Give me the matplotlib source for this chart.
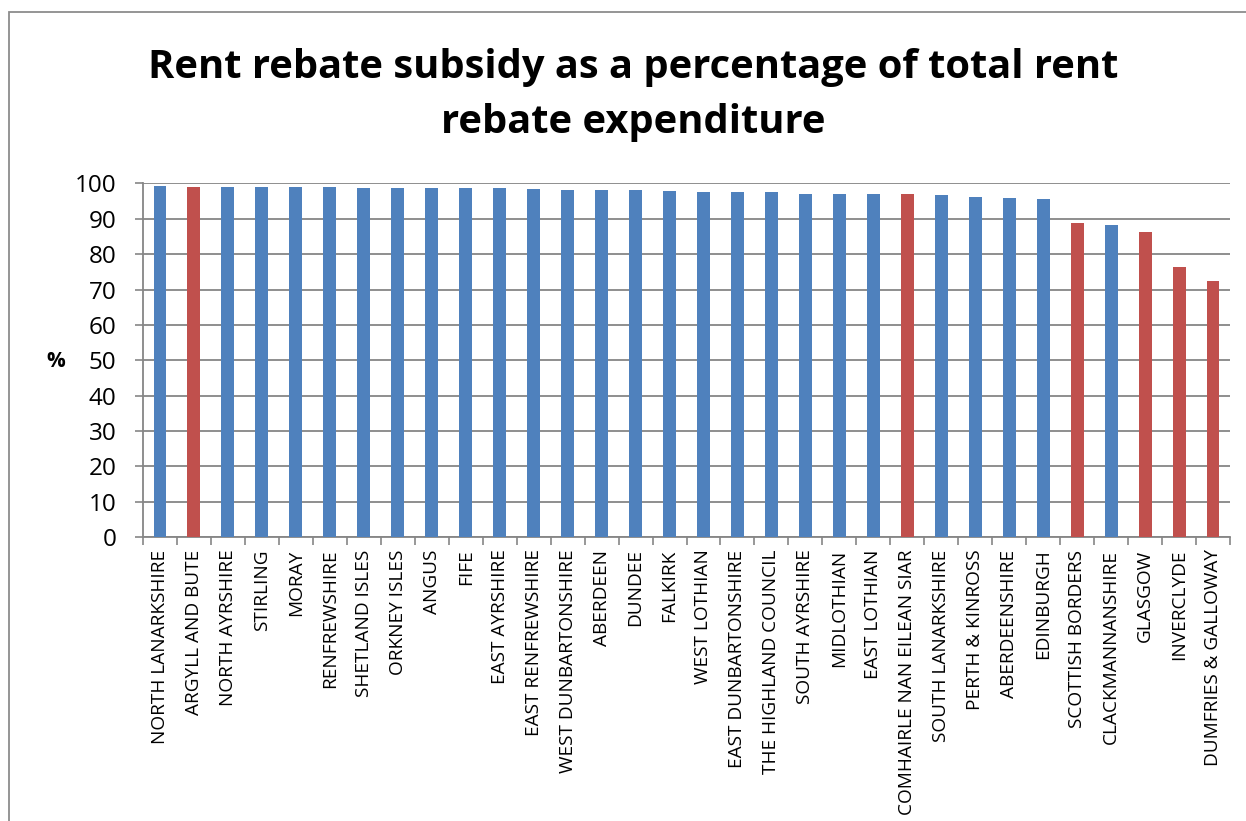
import matplotlib
matplotlib.use("Agg")
import matplotlib.pyplot as plt
from matplotlib.patches import Rectangle
from matplotlib.ticker import FixedLocator, NullFormatter

councils = [
    "NORTH LANARKSHIRE", "ARGYLL AND BUTE", "NORTH AYRSHIRE", "STIRLING",
    "MORAY", "RENFREWSHIRE", "SHETLAND ISLES", "ORKNEY ISLES", "ANGUS",
    "FIFE", "EAST AYRSHIRE", "EAST RENFREWSHIRE", "WEST DUNBARTONSHIRE",
    "ABERDEEN", "DUNDEE", "FALKIRK", "WEST LOTHIAN", "EAST DUNBARTONSHIRE",
    "THE HIGHLAND COUNCIL", "SOUTH AYRSHIRE", "MIDLOTHIAN", "EAST LOTHIAN",
    "COMHAIRLE NAN EILEAN SIAR", "SOUTH LANARKSHIRE", "PERTH & KINROSS",
    "ABERDEENSHIRE", "EDINBURGH", "SCOTTISH BORDERS", "CLACKMANNANSHIRE",
    "GLASGOW", "INVERCLYDE", "DUMFRIES & GALLOWAY",
]
subsidy_pct = [
    99.4, 99.1, 99.1, 99.1, 99.0, 99.0, 98.8, 98.8, 98.7, 98.7, 98.6, 98.5,
    98.3, 98.2, 98.2, 98.0, 97.7, 97.5, 97.5, 97.1, 96.9, 96.9, 96.9, 96.8,
    96.3, 96.0, 95.7, 88.7, 88.4, 86.4, 76.4, 72.5,
]
highlighted = {
    "ARGYLL AND BUTE", "COMHAIRLE NAN EILEAN SIAR", "SCOTTISH BORDERS",
    "GLASGOW", "INVERCLYDE", "DUMFRIES & GALLOWAY",
}
y_ticks = [0, 10, 20, 30, 40, 50, 60, 70, 80, 90, 100]

BLUE = "#4F81BD"
RED = "#C0504D"
GRID = "#868686"
FONT = ["Open Sans", "DejaVu Sans"]

plt.rcParams["font.family"] = FONT

W, H, DPI = 1246, 821, 100
fig = plt.figure(figsize=(W / DPI, H / DPI), dpi=DPI)
fig.patch.set_facecolor("white")

# chart-area frame (only left and top edges fall inside the canvas)
fig.add_artist(Rectangle((9 / W, -0.05), 1.1, 1 - 12 / H + 0.05,
                         transform=fig.transFigure, fill=False,
                         edgecolor="#8C8C8C", linewidth=1.3))

left, right, top, bottom = 143, 1230, 183.5, 537
ax = fig.add_axes([left / W, 1 - bottom / H, (right - left) / W, (bottom - top) / H])

x = list(range(len(councils)))
colors = [RED if c in highlighted else BLUE for c in councils]
ax.bar(x, subsidy_pct, width=0.38, color=colors, zorder=3)

ax.set_xlim(-0.5, len(councils) - 0.5)
ax.set_ylim(0, 100)
ax.set_yticks(y_ticks)
ax.tick_params(axis="y", labelsize=17.5, length=6, width=1.2, color=GRID, pad=13)
ax.yaxis.grid(True, color=GRID, linewidth=1.3, zorder=0)

ax.set_xticks(x)
ax.set_xticklabels(councils, rotation=90, fontsize=13.7)
ax.tick_params(axis="x", which="major", length=0, pad=9)
ax.xaxis.set_minor_locator(FixedLocator([i - 0.5 for i in range(len(councils) + 1)]))
ax.xaxis.set_minor_formatter(NullFormatter())
ax.tick_params(axis="x", which="minor", length=6, width=1.2, color=GRID)

for side in ("top", "right"):
    ax.spines[side].set_visible(False)
for side in ("left", "bottom"):
    ax.spines[side].set_color(GRID)
    ax.spines[side].set_linewidth(1.3)

fig.text(56 / W, 1 - 361 / H, "%", fontsize=15, fontweight="bold",
         ha="center", va="center")

fig.text(633 / W, 1 - 95 / H,
         "Rent rebate subsidy as a percentage of total rent\nrebate expenditure",
         fontsize=28.7, fontweight="bold", ha="center", va="center",
         linespacing=1.52)

fig.savefig("out.png", dpi=DPI)
